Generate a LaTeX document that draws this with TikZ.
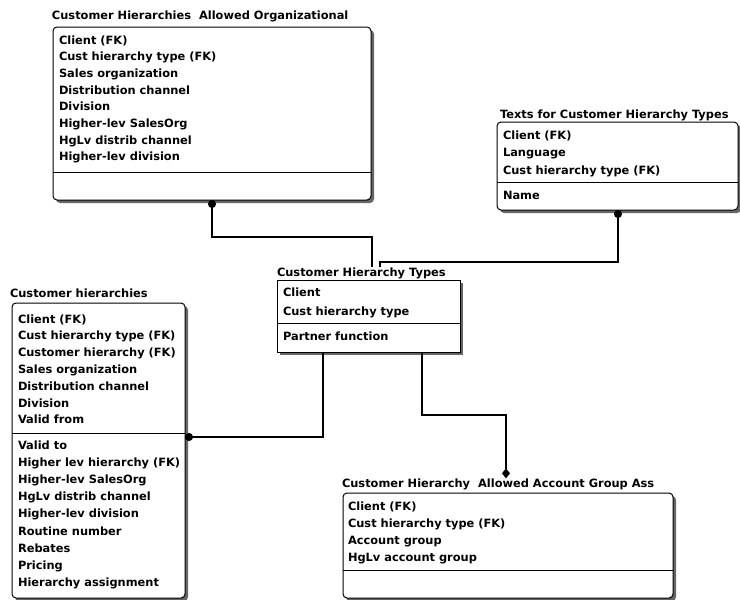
\documentclass[tikz,border=0pt]{standalone}
\usepackage{fontspec}
\setmainfont{DejaVu Sans}
\usetikzlibrary{shadows,arrows.meta}
\tikzset{bigdot/.tip={Circle[length=8pt,width=8pt]}, bigdia/.tip={Diamond[length=10pt,width=8pt]}}
\begin{document}
\begin{tikzpicture}[x=1pt,y=-1pt,
  ent/.style={draw, line width=1pt, fill=white, inner sep=0pt, outer sep=0pt, anchor=north west, rounded corners=4pt,
    general shadow={fill=black!60, shadow xshift=3pt, shadow yshift=-3pt}},
  sqbox/.style={rounded corners=0pt},
  txt/.style={anchor=base west, inner sep=0pt, outer sep=0pt, font=\bfseries\fontsize{11.4}{13}\selectfont},
  sepline/.style={line width=1pt},
  conn/.style={line width=1.2pt},
]
\useasboundingbox (0,0) rectangle (740,600);
\fill[white] (0,0) rectangle (740,600);

% ---------- Box 1: Customer Hierarchies Allowed Organizational
\node[txt] (t1) at (52,19) {Customer Hierarchies\ \ Allowed Organizational};
\node[ent, minimum width=318pt, minimum height=173pt] (b1) at (53,27) {};
\draw[sepline] (b1.west |- 0,172) -- (b1.east |- 0,172);
\foreach \s [count=\k from 0] in {Client (FK),Cust hierarchy type (FK),Sales organization,Distribution channel,Division,Higher-lev SalesOrg,HgLv distrib channel,Higher-lev division}
  \node[txt] (b1r\k) at (59,44+16.7*\k) {\s};

% ---------- Box 2: Texts for Customer Hierarchy Types
\node[txt] (t2) at (500,118) {Texts for Customer Hierarchy Types};
\node[ent, minimum width=241pt, minimum height=88pt] (b2) at (497,122) {};
\draw[sepline] (b2.west |- 0,182) -- (b2.east |- 0,182);
\node[txt] (b2r0) at (503,139) {Client (FK)};
\node[txt] (b2r1) at (503,156.5) {Language};
\node[txt] (b2r2) at (503,174) {Cust hierarchy type (FK)};
\node[txt] (b2r3) at (503,199.5) {Name};

% ---------- Box 3: Customer Hierarchy Types
\node[txt] (t3) at (277,276) {Customer Hierarchy Types};
\node[ent, sqbox, minimum width=183pt, minimum height=72pt] (b3) at (277,280) {};
\draw[sepline] (b3.west |- 0,323) -- (b3.east |- 0,323);
\node[txt] (b3r0) at (283,296) {Client};
\node[txt] (b3r1) at (283,315) {Cust hierarchy type};
\node[txt] (b3r2) at (283,340) {Partner function};

% ---------- Box 4: Customer hierarchies
\node[txt] (t4) at (10,297) {Customer hierarchies};
\node[ent, minimum width=173pt, minimum height=295pt] (b4) at (12,303) {};
\draw[sepline] (b4.west |- 0,433) -- (b4.east |- 0,433);
\foreach \s [count=\k from 0] in {Client (FK),Cust hierarchy type (FK),Customer hierarchy (FK),Sales organization,Distribution channel,Division,Valid from}
  \node[txt] (b4a\k) at (18,323+16.8*\k) {\s};
\foreach \s [count=\k from 0] in {Valid to,Higher lev hierarchy (FK),Higher-lev SalesOrg,HgLv distrib channel,Higher-lev division,Routine number,Rebates,Pricing,Hierarchy assignment}
  \node[txt] (b4b\k) at (18,449+17.2*\k) {\s};

% ---------- Box 5: Customer Hierarchy Allowed Account Group Ass
\node[txt] (t5) at (342,487) {Customer Hierarchy\ \ Allowed Account Group Ass};
\node[ent, minimum width=330pt, minimum height=105pt] (b5) at (343,493) {};
\draw[sepline] (b5.west |- 0,570) -- (b5.east |- 0,570);
\node[txt] (b5r0) at (348,510) {Client (FK)};
\node[txt] (b5r1) at (348,527) {Cust hierarchy type (FK)};
\node[txt] (b5r2) at (348,544.5) {Account group};
\node[txt] (b5r3) at (348,561) {HgLv account group};

% ---------- Connectors
\draw[conn, bigdot-] (212,0 |- b1.south) |- (372,237) -- (372,0 |- t3.north);
\draw[conn, bigdot-] (618,0 |- b2.south) |- (380,262) -- (380,0 |- t3.north);
\draw[conn, -bigdot] (323,0 |- b3.south) |- (b4.east |- 0,437);
\draw[conn, -bigdia] (422,0 |- b3.south) |- (506,415) -- (506,0 |- t5.north);
\end{tikzpicture}
\end{document}
